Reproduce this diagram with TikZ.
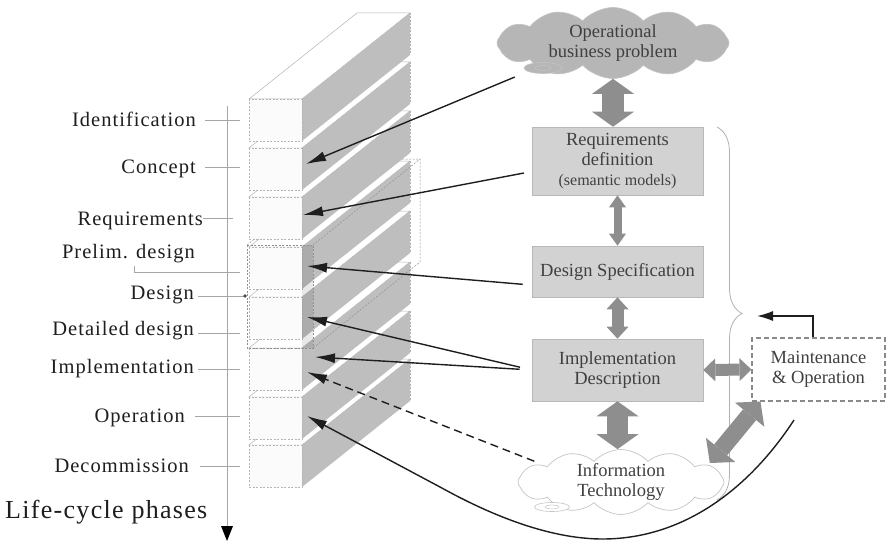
\documentclass[tikz,border=0pt]{standalone}
\usepackage{fontspec}
\setmainfont{Liberation Serif}
\usetikzlibrary{shapes.symbols,shapes.geometric,arrows.meta,decorations.pathreplacing}

\definecolor{sidegray}{HTML}{BEBEBE}
\definecolor{frontwhite}{HTML}{FBFBFB}
\definecolor{faceline}{HTML}{B4B4B4}
\definecolor{boxgray}{HTML}{D2D2D2}
\definecolor{boxline}{HTML}{B8B8B8}
\definecolor{cloudgray}{HTML}{B6B6B6}
\definecolor{cloudline}{HTML}{C4C4C4}
\definecolor{flowgray}{HTML}{8E8E8E}
\definecolor{txtgray}{HTML}{404040}
\definecolor{tickgray}{HTML}{A6A6A6}
\definecolor{bracegray}{HTML}{B0B0B0}
\definecolor{inkblack}{HTML}{1E1E1E}
\definecolor{dashgray}{HTML}{8A8A8A}

\newcommand\phasefont{\fontsize{20.5}{24}\selectfont\addfontfeatures{LetterSpace=5}}
\newcommand\titlefont{\fontsize{26}{30}\selectfont\addfontfeatures{LetterSpace=5}}
\newcommand\stagefont{\fontsize{18.5}{20}\selectfont}
\newcommand\smallstagefont{\fontsize{16}{20}\selectfont}

\tikzset{
  phase/.style={anchor=base east, font=\phasefont, text=inkblack, inner sep=0pt},
  tick/.style={draw=tickgray, line width=0.6pt},
  blockfront/.style={fill=frontwhite, draw=faceline, dash pattern=on 2pt off 1.5pt, line width=0.5pt},
  blocktop/.style={fill=white, draw=faceline, line width=0.5pt},
  blockside/.style={fill=sidegray},
  backedge/.style={draw=faceline, line width=0.5pt, dash pattern=on 2pt off 1.5pt},
  groupline/.style={draw=faceline!80!black, line width=0.5pt, dash pattern=on 2pt off 1.5pt},
  stage/.style={draw=boxline, fill=boxgray, line width=0.6pt, minimum width=171pt,
    text=txtgray, font=\stagefont, align=center, inner sep=0pt},
  puffy/.style={cloud, cloud puffs=12, cloud puff arc=95, cloud ignores aspect,
    draw=cloudline, line width=0.7pt, text=txtgray, font=\stagefont, align=center, inner sep=0pt},
  puffytail/.style={ellipse, draw=cloudline, line width=0.6pt, inner sep=0pt},
  flow/.style n args={3}{draw=flowgray, line width=#1,
    {Triangle[width=#2,length=#3,line width=0pt]}-{Triangle[width=#2,length=#3,line width=0pt]}},
  ptr/.style={draw=inkblack, line width=1.4pt, -{Latex[length=20pt,width=10pt]}},
}

\begin{document}
\begin{tikzpicture}[x=1pt,y=-1pt]
\useasboundingbox (0,0) rectangle (887,543);

% ---------- stacked phase blocks (lowest first) ----------
\foreach \t in {445,397,348,297,247}{
  \path[blocktop] (249,\t) -- (302,\t) -- (410,\t-86) -- (357,\t-86) -- cycle;
  \path[blockside] (302,\t) -- (410,\t-86) -- (410,\t-44) -- (302,\t+42) -- cycle;
  \path[backedge] (410,\t-86) -- (410,\t-44);
  \path[blockfront] (249,\t) rectangle (302,\t+42);
}
% design group enclosing the two design blocks
\path[fill=black, fill opacity=0.09] (302,245) rectangle (313,348);
\path[groupline] (247,245) rectangle (313,348);
\path[groupline] (247,245) -- (354,159) -- (420,159) -- (420,262) -- (313,348);
\path[groupline] (313,245) -- (420,159);
\foreach \t in {197,148,99}{
  \path[blocktop] (249,\t) -- (302,\t) -- (410,\t-86) -- (357,\t-86) -- cycle;
  \path[blockside] (302,\t) -- (410,\t-86) -- (410,\t-44) -- (302,\t+42) -- cycle;
  \path[backedge] (410,\t-86) -- (410,\t-44);
  \path[blockfront] (249,\t) rectangle (302,\t+42);
}

% ---------- life-cycle axis and phase labels ----------
\coordinate (axtop) at (227,106);
\coordinate (axbot) at (227,541);
\draw[draw=tickgray, line width=0.6pt,
  -{Triangle[length=15pt,width=12pt,color=black,line width=0pt]}] (axtop) -- (axbot);

\draw[tick] (205,120) -- (240,120);
\draw[tick] (205,167) -- (240,167);
\draw[tick] (203,218) -- (233,218);
\draw[tick] (134,266) -- (134,272) -- (240,272);
\draw[tick] (198,296) -- (245,296);
\fill[black!70] (245,296) circle (1.8pt);
\draw[tick] (198,333) -- (240,333);
\draw[tick] (198,369) -- (240,369);
\draw[tick] (195,416) -- (240,416);
\draw[tick] (200,466) -- (240,466);

\node[phase] (idn) at (196,127) {Identification};
\node[phase] (cpt) at (196,173) {Concept};
\node[phase] (rqm) at (203,225) {Requirements};
\node[phase] (pre) at (195,258) {Prelim. design};
\node[phase] (dsg) at (194,299) {Design};
\node[phase] (dtl) at (194,335) {Detailed design};
\node[phase] (imp) at (194,373) {Implementation};
\node[phase] (opr) at (185,422) {Operation};
\node[phase] (dec) at (189,472) {Decommission};
\node[anchor=base west, font=\titlefont, text=inkblack, inner sep=0pt] (lcp) at (5,518) {Life-cycle phases};

% ---------- development stages ----------
\node[puffy, fill=cloudgray, minimum width=232pt, minimum height=70pt] (opb) at (613,43)
  {Operational\\business problem};
\node[puffytail, fill=cloudgray, minimum width=38pt, minimum height=11pt] (opbtail) at (543,68) {};
\draw[cloudline, line width=0.5pt] (opbtail.center) ellipse (8pt and 2.5pt);

\node[stage, minimum height=68pt] (req) at (617.5,161)
  {Requirements\\definition\\{\smallstagefont (semantic models)}};
\node[stage, minimum height=51pt] (dsp) at (617.5,271.5) {Design Specification};
\node[stage, minimum height=62pt] (imd) at (617.5,370) {Implementation\\Description};

\node[puffy, fill=white, minimum width=206pt, minimum height=65pt] (itc) at (621,482)
  {Information\\Technology};
\node[puffytail, fill=white, minimum width=35pt, minimum height=9pt] (itctail) at (552,507) {};
\draw[cloudline, line width=0.5pt] (itctail.center) ellipse (7pt and 2pt);

\node[draw=dashgray, dash pattern=on 5pt off 3pt, line width=1.1pt, fill=white,
  minimum width=133pt, minimum height=63pt, text=txtgray, font=\stagefont,
  align=center, inner sep=0pt] (mop) at (818.5,369.5) {Maintenance\\\& Operation};

% brace over the development stages
\draw[bracegray, line width=0.8pt, decorate, decoration={brace, amplitude=25pt}]
  (717,127) -- (717,500);

% ---------- two-way flows between stages ----------
\draw[flow={22pt}{42pt}{15pt}] (opb.south) -- (opb.south |- req.north);
\draw[flow={8pt}{17pt}{12pt}] (req.south) -- (dsp.north);
\draw[flow={12pt}{22pt}{12pt}] (dsp.south) -- (imd.north);
\draw[flow={21pt}{42pt}{15pt}] (imd.south) -- (imd.south |- itc.north);
\draw[flow={12pt}{23pt}{12pt}] (imd.east) -- (mop.west);
\draw[flow={17pt}{38pt}{17pt}] ([xshift=18pt]itc.15) -- ([xshift=9pt]mop.south west);

% ---------- pointers into the phase blocks ----------
\coordinate (tcpt) at (306,164);
\coordinate (trqm) at (303,215);
\coordinate (tpre) at (307,266);
\coordinate (tdtl) at (307,317);
\coordinate (timp) at (315,357);
\coordinate (timq) at (307,372);
\coordinate (topr) at (307,416);
\coordinate (mtail) at (794,420);
\coordinate (ret) at (757,316);

\draw[ptr, shorten <=25pt] (opb.198) -- (tcpt);
\draw[ptr, shorten <=8pt] (req.187) -- (trqm);
\draw[ptr, shorten <=9pt] (dsp.189) -- (tpre);
\draw[ptr, shorten <=12pt] (imd.west) -- (tdtl);
\draw[ptr, shorten <=12pt] (imd.west) -- (timp);
\draw[ptr, shorten <=14pt, dash pattern=on 8pt off 5pt] (itc.168) -- (timq);
\draw[ptr] (mtail) .. controls (755,480) and (690,540) .. (600,539)
  .. controls (540,538) and (478,508) .. (440,487) -- (topr);
\draw[inkblack, line width=1.4pt, -{Latex[length=16pt,width=10pt]}] (mop.100) |- (ret);
\end{tikzpicture}
\end{document}
